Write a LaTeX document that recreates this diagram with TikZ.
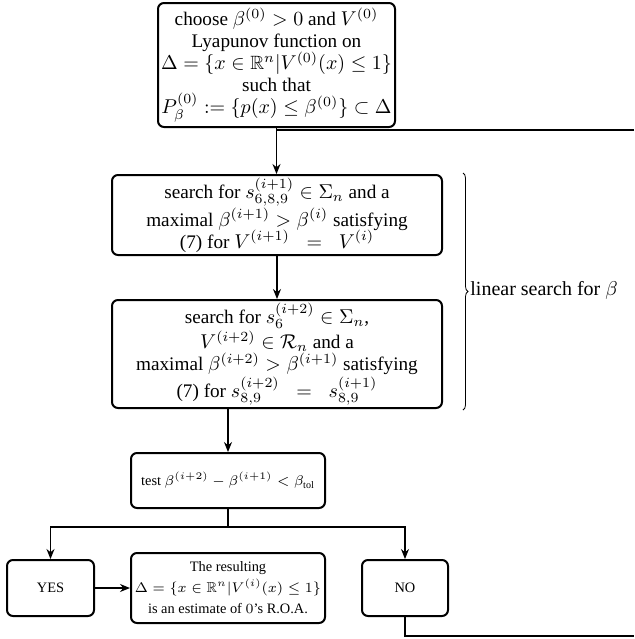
\documentclass[tikz,border=0pt]{standalone}
\usepackage{amsmath,amssymb}
\usepackage{fontspec}
\setmainfont{Liberation Serif}
\usetikzlibrary{arrows.meta,decorations.pathreplacing}
\begin{document}
\begin{tikzpicture}[x=0.5pt,y=-0.5pt,
  box/.style={draw, line width=1pt, rounded corners=3pt, align=center, inner sep=0pt},
  big/.style={font=\fontsize{9.6}{11}\selectfont},
  small/.style={font=\fontsize{7.2}{10.5}\selectfont},
  conn/.style={line width=0.7pt},
  arr/.style={conn, -{Stealth[length=5pt,width=4pt]}}]
\useasboundingbox (0,0) rectangle (634,639);
\node[box, big, minimum width=118.5pt, minimum height=62pt] (b1) at (276.5,65)
  {choose $\beta^{(0)}>0$ and $V^{(0)}$\\ Lyapunov function on\\ $\Delta=\{x\in\mathbb{R}^n|V^{(0)}(x)\le 1\}$\\ such that\\ $P_\beta^{(0)}:=\{p(x)\le\beta^{(0)}\}\subset\Delta$};
\node[box, big, minimum width=165pt, minimum height=40pt] (b2) at (277,215)
  {search for $s_{6,8,9}^{(i+1)}\in\Sigma_n$ and a\\ maximal $\beta^{(i+1)}>\beta^{(i)}$ satisfying\\ (7) for $V^{(i+1)}\;\;=\;\;V^{(i)}$};
\node[box, big, minimum width=165pt, minimum height=54pt] (b3) at (277,354)
  {search for $s_{6}^{(i+2)}\in\Sigma_n$,\\ $V^{(i+2)}\in\mathcal{R}_n$ and a\\ maximal $\beta^{(i+2)}>\beta^{(i+1)}$ satisfying\\ (7) for $s_{8,9}^{(i+2)}\;\;=\;\;s_{8,9}^{(i+1)}$};
\node[box, small, minimum width=97pt, minimum height=27.5pt] (b4) at (228,480.5)
  {test $\beta^{(i+2)}-\beta^{(i+1)}<\beta_{\mathrm{tol}}$};
\node[box, small, minimum width=43.5pt, minimum height=28pt] (yes) at (50.5,588) {YES};
\node[box, small, minimum width=97pt, minimum height=35pt] (res) at (228,588)
  {The resulting\\ $\Delta=\{x\in\mathbb{R}^n|V^{(i)}(x)\le 1\}$\\ is an estimate of $0$'s R.O.A.};
\node[box, small, minimum width=43pt, minimum height=28pt] (no) at (405,588) {NO};
\node[anchor=west, inner sep=0pt, font=\fontsize{10}{12}\selectfont] (lab) at (470,290) {linear search for $\beta$};
\coordinate (tr) at (634,130);
\coordinate (br) at (634,636);
\coordinate (split) at (228,527);
\coordinate (bt) at (463,173);
\coordinate (bb) at (463,410);
\draw[arr] (b1.south) -- (b1.south |- b2.north);
\draw[conn] (tr) -- (b1.south |- tr);
\draw[arr] (b2.south) -- (b3.north);
\draw[arr] (b4.north |- b3.south) -- (b4.north);
\draw[conn] (b4.south) -- (split);
\draw[arr] (split) -| (yes.north);
\draw[arr] (split) -| (no.north);
\draw[arr] (yes.east) -- (res.west);
\draw[conn] (no.south) |- (br);
\draw[line width=0.4pt, decorate, decoration={brace, amplitude=2.5pt}] (bt) -- (bb);
\end{tikzpicture}
\end{document}
